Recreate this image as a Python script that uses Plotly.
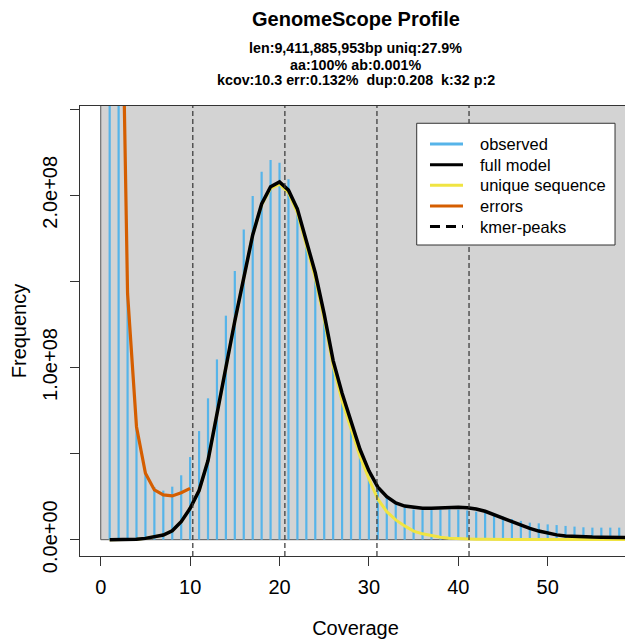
import plotly.graph_objects as go

# GenomeScope k-mer profile, frequencies in millions of k-mers
coverage = list(range(1, 60))
observed = [1200, 460, 143, 65.8, 39.4, 30.6, 28.5, 30.8, 37.4, 48.0,
            63.1, 82.1, 104.7, 130.1, 156.0, 180.2, 199.6, 213.7, 220.5, 218.9,
            209.3, 193.0, 172, 152, 129, 103, 83, 66, 50, 38,
            30, 24.5, 20.5, 18.5, 17.5, 17.2, 17.2, 17.4, 17.5, 17.4,
            17.0, 16.3, 15.7, 14.9, 13.4, 12.0, 10.9, 9.9, 9.5, 8.9,
            8.5, 8.0, 7.6, 7.2, 7.0, 7.0, 7.0, 7.0, 7.0]

model_cov = list(range(1, 61))
full_model = [0.0, 0.0, 0.05, 0.2, 0.77, 1.7, 2.7, 5.2, 10.5, 18.2,
              28.5, 46, 72, 100, 127, 153, 177, 195, 205, 207.8,
              203, 192, 174, 155, 131, 104, 85, 68, 52.5, 40,
              30.5, 25, 21.3, 19.5, 18.6, 18.2, 18.3, 18.6, 18.8, 18.8,
              18.5, 17.8, 16.5, 14.5, 12.4, 10.4, 8.4, 6.6, 5.0, 3.7,
              2.8, 2.2, 1.8, 1.6, 1.5, 1.4, 1.3, 1.2, 1.2, 1.1]
unique_seq = [0.0, 0.0, 0.05, 0.2, 0.77, 1.7, 2.7, 5.2, 10.5, 18.2,
              28.5, 46, 72, 100, 127, 153, 177, 194.5, 204, 206.5,
              201.5, 190, 171.5, 152, 128, 101, 80.5, 64.5, 48.5, 35.5,
              23.5, 16.3, 11.5, 8.0, 5.0, 3.4, 2.2, 1.4, 0.9, 0.6,
              0.4, 0.3, 0.2, 0.15, 0.1, 0.05, 0.05, 0.05, 0.05, 0.05,
              0.05, 0.05, 0.05, 0.05, 0.05, 0.05, 0.05, 0.05, 0.05, 0.05]

err_cov = list(range(1, 11))
errors = [1200, 445, 143, 65.6, 38.6, 28.9, 26.0, 25.4, 27.3, 29.8]

kmer_peaks = [10.3, 20.6, 30.9, 41.2]

x_ticks = [0, 10, 20, 30, 40, 50]
y_ticks = [0, 50, 100, 150, 200, 250]
y_ticktext = ["0.0e+00", "", "1.0e+08", "", "2.0e+08", ""]

title = "GenomeScope Profile"
subtitle = ["len:9,411,885,953bp uniq:27.9%",
            "aa:100% ab:0.001%",
            "kcov:10.3 err:0.132%\u00a0 dup:0.208\u00a0 k:32 p:2"]

legend_labels = ["observed", "full model", "unique sequence", "errors", "kmer-peaks"]
legend_colors = ["#56B4E9", "black", "#F0E442", "#D55E00", "black"]

x_range = [-2.32, 59.32]
y_range = [-9.47, 251.86]

FONT = "Liberation Sans, Arial, Helvetica, sans-serif"

# histogram drawn as vertical spikes, like R's type="h"
spike_x, spike_y = [], []
for c, v in zip(coverage, observed):
    spike_x += [c, c, None]
    spike_y += [0, v, None]

peak_x, peak_y = [], []
for p in kmer_peaks:
    peak_x += [p, p, None]
    peak_y += [y_range[0], y_range[1], None]

fig = go.Figure()
fig.add_trace(go.Scatter(x=spike_x, y=spike_y, mode="lines", name="observed",
                         line=dict(color="#56B4E9", width=2.2)))
fig.add_trace(go.Scatter(x=model_cov, y=unique_seq, mode="lines", name="unique sequence",
                         line=dict(color="#F0E442", width=3)))
fig.add_trace(go.Scatter(x=model_cov, y=full_model, mode="lines", name="full model",
                         line=dict(color="black", width=3.5)))
fig.add_trace(go.Scatter(x=err_cov, y=errors, mode="lines", name="errors",
                         line=dict(color="#D55E00", width=3.2)))
fig.add_trace(go.Scatter(x=peak_x, y=peak_y, mode="lines", name="kmer-peaks",
                         line=dict(color="#333333", width=1.2, dash="5px,3px")))

# grey panel behind the data
fig.add_shape(type="rect", xref="x", yref="y", x0=0, y0=0, x1=1000, y1=10000,
              fillcolor="#D3D3D3", line=dict(color="#555555", width=1), layer="below")

# legend box, drawn by hand to get R's spacing
fig.add_shape(type="rect", xref="paper", yref="paper", x0=0.6111, x1=0.971, y0=0.6911, y1=0.9616,
              fillcolor="white", line=dict(color="#333333", width=1), layer="above")
for i, (lab, col) in enumerate(zip(legend_labels, legend_colors)):
    yc = 0.9154 - i * 0.0458
    fig.add_shape(type="line", xref="paper", yref="paper", x0=0.6352, x1=0.6951, y0=yc, y1=yc,
                  line=dict(color=col, width=3, dash="10px,6px" if lab == "kmer-peaks" else "solid"),
                  layer="above")
    fig.add_annotation(text=lab, xref="paper", yref="paper", x=0.7223, y=yc,
                       xanchor="left", yanchor="middle", showarrow=False,
                       font=dict(size=16.5, family=FONT, color="black"))

fig.add_annotation(text="<b>" + title + "</b>", xref="paper", yref="paper", x=0.5, y=1,
                   yanchor="middle", yshift=87.5, showarrow=False,
                   font=dict(size=20, family=FONT, color="black"))
for line, shift in zip(subtitle, [58, 41.5, 25.7]):
    fig.add_annotation(text="<b>" + line + "</b>", xref="paper", yref="paper", x=0.5, y=1,
                       yanchor="middle", yshift=shift, showarrow=False,
                       font=dict(size=14.3, family=FONT, color="black"))

axis_style = dict(showline=True, mirror=True, linecolor="#333333", linewidth=1,
                  ticks="outside", ticklen=9, tickwidth=1, tickcolor="#333333",
                  showgrid=False, zeroline=False, automargin=False,
                  tickfont=dict(size=20, family=FONT, color="black"))

# the page body adds an 8px offset, so the figure is 8px smaller than the window
fig.update_layout(
    width=625, height=631,
    margin=dict(l=72, r=2, t=98, b=83, autoexpand=False),
    paper_bgcolor="white", plot_bgcolor="white",
    font=dict(family=FONT, color="black"),
    xaxis=dict(range=x_range, tickvals=x_ticks, ticklabelstandoff=4, **axis_style,
               title=dict(text="Coverage", font=dict(size=20, family=FONT), standoff=25)),
    yaxis=dict(range=y_range, tickvals=y_ticks, ticktext=y_ticktext, tickangle=-90,
               ticklabelstandoff=5, **axis_style,
               title=dict(text="Frequency", font=dict(size=20, family=FONT), standoff=33)),
    showlegend=False,
)

fig.write_html("out.html")
